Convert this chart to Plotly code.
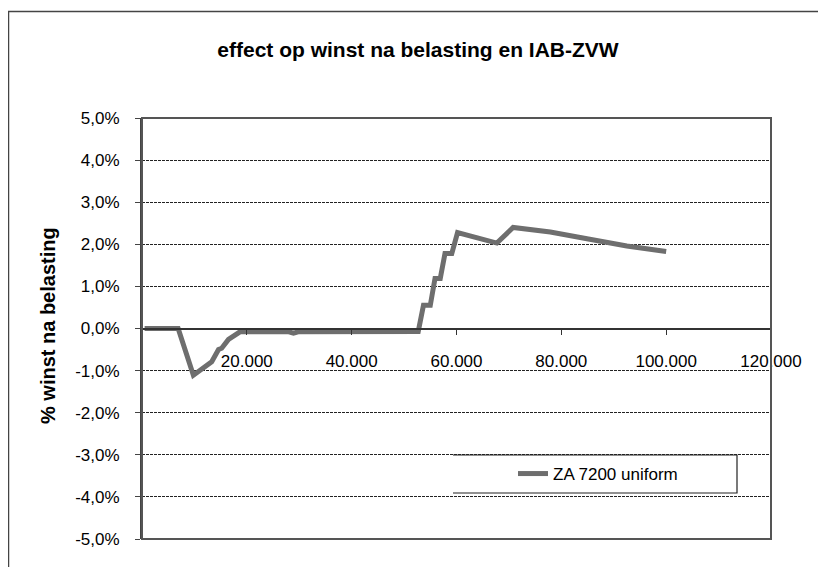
import plotly.graph_objects as go

# Data
income = [500, 6900, 9800, 13300, 14600, 15200, 16500, 17700, 18700, 28000, 28900, 29800,
          45000, 52700, 53700, 55000, 55900, 56900, 57800, 59100, 60200, 67700, 70800,
          77900, 84900, 92500, 100000]
effect = [0.00, 0.00, -1.11, -0.79, -0.50, -0.47, -0.26, -0.18, -0.08, -0.08, -0.11, -0.08,
          -0.08, -0.07, 0.55, 0.55, 1.19, 1.19, 1.78, 1.78, 2.28, 2.03, 2.40,
          2.29, 2.13, 1.96, 1.83]
series_name = "ZA 7200 uniform"
title_text = "effect op winst na belasting en IAB-ZVW"
y_title = "% winst na belasting"
x_ticks = [20000, 40000, 60000, 80000, 100000, 120000]
y_ticks = [-5, -4, -3, -2, -1, 0, 1, 2, 3, 4, 5]
y_tick_labels = [("%.1f%%" % v).replace(".", ",") for v in y_ticks]

FONT = "Liberation Sans, Arial, sans-serif"
OFF = 8  # page body margin offset

W = 826 - 2 * OFF
H = 575 - 2 * OFF

fig = go.Figure()
fig.add_trace(go.Scatter(
    x=income, y=effect, mode="lines", name=series_name,
    line=dict(color="#6e6e6e", width=5),
))

fig.update_layout(
    width=W, height=H,
    margin=dict(l=142 - OFF, r=55 - OFF, t=118 - OFF, b=36 - OFF),
    paper_bgcolor="white", plot_bgcolor="white",
    separators=",.",
    font=dict(family=FONT, size=17, color="black"),
    title=dict(text="<b>" + title_text + "</b>", x=(418 - 142) / 629, xref="paper", xanchor="center",
               y=1 - (50 - OFF) / H, yref="container", yanchor="middle",
               font=dict(family=FONT, size=21, color="black")),
    showlegend=True,
    legend=dict(x=(513 - 142) / 629, xanchor="left", y=(539 - 474) / 421, yanchor="middle",
                bgcolor="rgba(0,0,0,0)", borderwidth=0,
                font=dict(family=FONT, size=17, color="black")),
    xaxis=dict(range=[0, 120000], tickvals=x_ticks, tickformat=",d",
               anchor="free", position=0.5, showline=True, linecolor="#333", linewidth=1.5,
               ticks="outside", ticklen=6, tickcolor="#333", showgrid=False, zeroline=False,
               ticklabelstandoff=11, fixedrange=True),
    yaxis=dict(range=[-5, 5], tickvals=y_ticks, ticktext=y_tick_labels,
               domain=[0, 1], showline=True, linecolor="#444", linewidth=2,
               ticks="outside", ticklen=5, tickcolor="#444",
               showgrid=True, gridcolor="#222", gridwidth=1, griddash="3px,1px",
               zeroline=False, ticklabelstandoff=12, fixedrange=True),
    shapes=[
        # plot frame
        dict(type="rect", xref="paper", yref="paper", x0=0, x1=1, y0=0, y1=1,
             line=dict(color="#555", width=2), layer="above"),
        # outer chart frame
        dict(type="rect", xref="paper", yref="paper",
             x0=(8.5 - 142) / 629, x1=1.2, y0=-0.3, y1=(539 - 11.5) / 421,
             line=dict(color="#444", width=1.5)),
        # legend box (no left edge, as in the reference)
        dict(type="path", xref="paper", yref="paper",
             path="M {a},{t} L {b},{t} L {b},{u} L {a},{u}".format(
                 a=(453 - 142) / 629, b=(737 - 142) / 629,
                 t=(539 - 455) / 421, u=(539 - 493) / 421),
             line=dict(color="#222", width=1.2)),
    ],
    annotations=[
        dict(text="<b>" + y_title + "</b>", xref="paper", yref="paper",
             x=(48 - 142) / 629, y=(539 - 326) / 421, textangle=-90, showarrow=False,
             xanchor="center", yanchor="middle",
             font=dict(family=FONT, size=20, color="black")),
    ],
)

fig.write_html("out.html", config={"displayModeBar": False})
